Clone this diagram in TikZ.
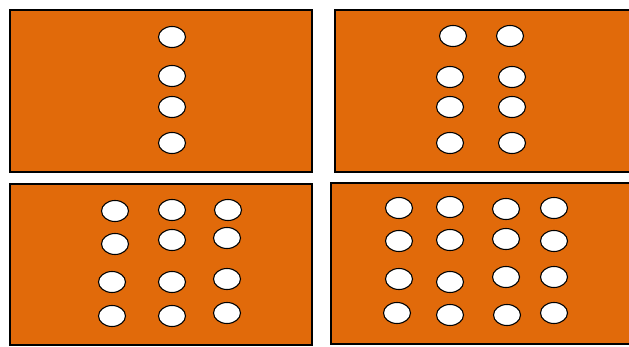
\documentclass[tikz,border=0pt]{standalone}
\usetikzlibrary{shapes.geometric}
\definecolor{panelorange}{RGB}{225,106,10}
\tikzset{
  panel/.style={fill=panelorange, draw=black, line width=1.4pt},
  hole/.style={ellipse, draw=black, fill=white, line width=1.1pt, minimum width=27pt, minimum height=21pt, inner sep=0pt}
}
\begin{document}
\begin{tikzpicture}[x=1pt,y=-1pt]
\useasboundingbox (0,0) rectangle (629,347);
\clip (0,0) rectangle (629,347);
% panels
\draw[panel] (10,10) rectangle (312,172);
\draw[panel] (335,10) rectangle (640,172);
\draw[panel] (10,184) rectangle (312,345);
\draw[panel] (331,183) rectangle (640,344);
% panel 1
\node[hole] (a1) at (172,37) {};
\node[hole] (a2) at (172,76) {};
\node[hole] (a3) at (172,107) {};
\node[hole] (a4) at (172,143) {};
% panel 2
\node[hole] (b1) at (453,36) {};
\node[hole] (b2) at (450,77) {};
\node[hole] (b3) at (450,107) {};
\node[hole] (b4) at (450,143) {};
\node[hole] (b5) at (510,36) {};
\node[hole] (b6) at (512,77) {};
\node[hole] (b7) at (512,107) {};
\node[hole] (b8) at (512,143) {};
% panel 3
\node[hole] (c1) at (115,211) {};
\node[hole] (c2) at (115,244) {};
\node[hole] (c3) at (112,282) {};
\node[hole] (c4) at (112,316) {};
\node[hole] (c5) at (172,210) {};
\node[hole] (c6) at (172,240) {};
\node[hole] (c7) at (172,282) {};
\node[hole] (c8) at (172,316) {};
\node[hole] (c9) at (228,210) {};
\node[hole] (c10) at (227,238) {};
\node[hole] (c11) at (227,279) {};
\node[hole] (c12) at (227,313) {};
% panel 4
\node[hole] (d1) at (399,208) {};
\node[hole] (d2) at (399,241) {};
\node[hole] (d3) at (399,279) {};
\node[hole] (d4) at (397,313) {};
\node[hole] (d5) at (450,207) {};
\node[hole] (d6) at (450,240) {};
\node[hole] (d7) at (450,282) {};
\node[hole] (d8) at (450,315) {};
\node[hole] (d9) at (506,209) {};
\node[hole] (d10) at (506,239) {};
\node[hole] (d11) at (506,277) {};
\node[hole] (d12) at (507,315) {};
\node[hole] (d13) at (554,208) {};
\node[hole] (d14) at (554,241) {};
\node[hole] (d15) at (554,277) {};
\node[hole] (d16) at (554,313) {};
\end{tikzpicture}
\end{document}
